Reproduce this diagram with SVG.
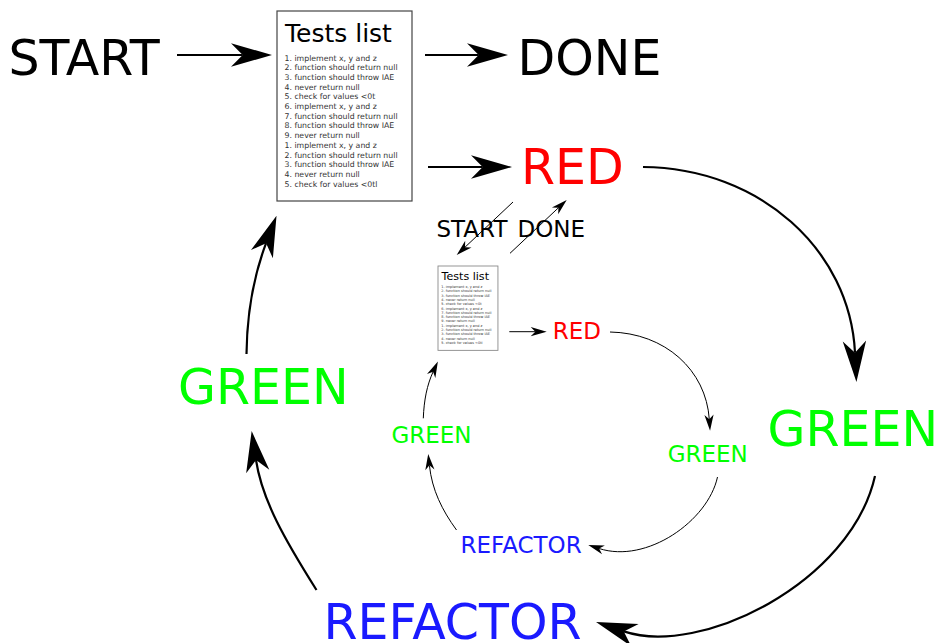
<svg xmlns="http://www.w3.org/2000/svg" width="937" height="643" viewBox="0 0 937 643">
  <style>
    text { font-family: "DejaVu Sans", "Liberation Sans", sans-serif; }
    .big { font-size: 49px; }
    .small { font-size: 23px; }
    .black { fill: #000; }
    .red { fill: #ff0000; }
    .green { fill: #00ff00; }
    .blue { fill: #1a1aff; }
    .title { font-size: 25px; fill: #000; }
    .item { font-size: 7.8px; fill: #333; }
    .wire { fill: none; stroke: #000; stroke-width: 2.2; }
    .wire-big { marker-end: url(#ahBig); }
    .thin { fill: none; stroke: #000; stroke-width: 1; marker-end: url(#ahSmall); }
    .card { fill: #fff; stroke: #444; stroke-width: 1.2; }
  </style>
  <defs>
    <!-- notched arrowheads; reference point sits at the notch -->
    <marker id="ahBig" markerUnits="userSpaceOnUse" orient="auto" overflow="visible" refX="0" refY="0" markerWidth="1" markerHeight="1">
      <path d="M0,0 L-11.7,11.7 L29.3,0 L-11.7,-11.7 Z" fill="#000"/>
    </marker>
    <marker id="ahSmall" markerUnits="userSpaceOnUse" orient="auto" overflow="visible" refX="0" refY="0" markerWidth="1" markerHeight="1">
      <path d="M0,0 L-4.6,4.6 L11.4,0 L-4.6,-4.6 Z" fill="#000"/>
    </marker>
  </defs>

  <rect width="937" height="643" fill="#fff"/>

  <!-- connectors -->
  <g id="connectors">
    <!-- outer cycle -->
    <path class="wire wire-big" d="M177,55 H242.7"/>
    <path class="wire wire-big" d="M425,55 H478.7"/>
    <path class="wire wire-big" d="M428,167 H482.7"/>
    <path class="wire wire-big" d="M643,167 C760,168 850,250 855,352.7"/>
    <path class="wire wire-big" d="M875,476 C851,583 700,657 623.8,631.4"/>
    <path class="wire wire-big" d="M316.5,590 C285,540 262,500 256,460"/>
    <path class="wire wire-big" d="M246.5,354 C247,310 254,275 266.1,243.2"/>
    <!-- links into the nested cycle -->
    <path class="thin" d="M513,202 L465,247.2"/>
    <path class="thin" d="M510,253.3 L558.4,207.8"/>
    <!-- nested cycle -->
    <path class="thin" d="M509.3,331.7 H535.3"/>
    <path class="thin" d="M610,332 C665,333 706,370 709.3,419.3"/>
    <path class="thin" d="M717.5,477 C708,521 646.6,564 599.1,548.5"/>
    <path class="thin" d="M456.5,530 C442,510 432,490 429.4,465.3"/>
    <path class="thin" d="M423.3,418.3 C424,400 427,385 433.1,371.8"/>
  </g>

  <!-- outer nodes -->
  <g id="start"><text class="big black" x="8.5" y="75">START</text></g>
  <g id="done"><text class="big black" x="517.5" y="75">DONE</text></g>
  <g id="tests">
    <rect class="card" x="277" y="11" width="135" height="190"/>
    <text class="title" x="285" y="41.7">Tests list</text>
    <text class="item" x="284.5" y="60.5">1. implement x, y and z</text>
    <text class="item" x="284.5" y="70.2">2. function should return null</text>
    <text class="item" x="284.5" y="79.9">3. function should throw IAE</text>
    <text class="item" x="284.5" y="89.6">4. never return null</text>
    <text class="item" x="284.5" y="99.3">5. check for values &lt;0t</text>
    <text class="item" x="284.5" y="109">6. implement x, y and z</text>
    <text class="item" x="284.5" y="118.7">7. function should return null</text>
    <text class="item" x="284.5" y="128.4">8. function should throw IAE</text>
    <text class="item" x="284.5" y="138.1">9. never return null</text>
    <text class="item" x="284.5" y="147.8">1. implement x, y and z</text>
    <text class="item" x="284.5" y="157.5">2. function should return null</text>
    <text class="item" x="284.5" y="167.2">3. function should throw IAE</text>
    <text class="item" x="284.5" y="176.9">4. never return null</text>
    <text class="item" x="284.5" y="186.6">5. check for values &lt;0tl</text>
  </g>
  <g id="red"><text class="big red" x="521" y="184">RED</text></g>
  <g id="green-right"><text class="big green" x="767.5" y="446">GREEN</text></g>
  <g id="refactor"><text class="big blue" x="323.5" y="639">REFACTOR</text></g>
  <g id="green-left"><text class="big green" x="178" y="404">GREEN</text></g>

  <!-- nested nodes -->
  <g id="inner-start-done">
    <text class="small black" x="436.5" y="237">START</text>
    <text class="small black" x="517.5" y="237">DONE</text>
  </g>
  <g id="inner-tests" transform="translate(438,266) scale(0.444) translate(-277,-11)">
    <rect x="277" y="11" width="135" height="190" fill="#fff" stroke="#888" stroke-width="2"/>
    <text class="title" x="285" y="41.7">Tests list</text>
    <text class="item" x="284.5" y="60.5">1. implement x, y and z</text>
    <text class="item" x="284.5" y="70.2">2. function should return null</text>
    <text class="item" x="284.5" y="79.9">3. function should throw IAE</text>
    <text class="item" x="284.5" y="89.6">4. never return null</text>
    <text class="item" x="284.5" y="99.3">5. check for values &lt;0t</text>
    <text class="item" x="284.5" y="109">6. implement x, y and z</text>
    <text class="item" x="284.5" y="118.7">7. function should return null</text>
    <text class="item" x="284.5" y="128.4">8. function should throw IAE</text>
    <text class="item" x="284.5" y="138.1">9. never return null</text>
    <text class="item" x="284.5" y="147.8">1. implement x, y and z</text>
    <text class="item" x="284.5" y="157.5">2. function should return null</text>
    <text class="item" x="284.5" y="167.2">3. function should throw IAE</text>
    <text class="item" x="284.5" y="176.9">4. never return null</text>
    <text class="item" x="284.5" y="186.6">5. check for values &lt;0tl</text>
  </g>
  <g id="inner-red"><text class="small red" x="552.8" y="339">RED</text></g>
  <g id="inner-green-right"><text class="small green" x="667.7" y="462">GREEN</text></g>
  <g id="inner-refactor"><text class="small blue" x="460.5" y="553">REFACTOR</text></g>
  <g id="inner-green-left"><text class="small green" x="391.4" y="443">GREEN</text></g>
</svg>
